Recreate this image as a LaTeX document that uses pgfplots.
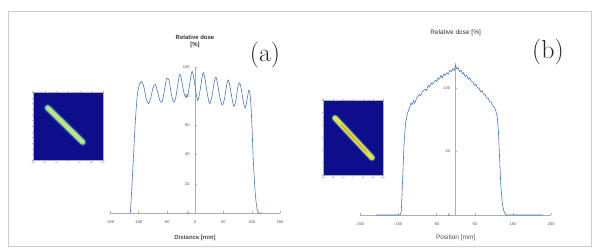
\documentclass[border=0pt]{standalone}
\usepackage{pgfplots}
\pgfplotsset{compat=1.18}
\usepackage{fontspec}
\setsansfont{Liberation Sans}
\definecolor{curve}{RGB}{70,120,195}
\definecolor{axgray}{RGB}{175,175,175}
\definecolor{tickgray}{RGB}{80,80,80}
\definecolor{hmblue}{RGB}{14,14,140}
\definecolor{hmmid}{RGB}{40,110,210}
\definecolor{hmcyan}{RGB}{120,200,160}
\definecolor{hmyel}{RGB}{205,225,120}
\definecolor{hmyel2}{RGB}{235,225,60}
\definecolor{hmor}{RGB}{225,165,40}
\definecolor{framegray}{RGB}{205,205,205}
\pgfplotsset{
  profile/.style={
    scale only axis, anchor=south west,
    axis lines*=middle,
    hide obscured x ticks=false, hide obscured y ticks=false,
    axis line style={axgray, line width=0.4bp},
    tick style={axgray, line width=0.3bp},
    major tick length=1.5bp,
    /pgf/number format/assume math mode=true,
    tick label style={font=\sffamily\fontsize{4}{4}\selectfont, text=tickgray},
    xticklabel style={yshift=-4bp},
    yticklabel style={xshift=-2bp},
    label style={font=\sffamily\bfseries\fontsize{6}{6}\selectfont, text=tickgray},
    title style={font=\sffamily\bfseries\fontsize{6}{6.5}\selectfont, text=black!80, align=center, anchor=center},
    clip=false,
  },
  inset/.style={
    scale only axis, anchor=south west,
    xmin=-150, xmax=150, ymin=-150, ymax=150,
    axis background/.style={fill=hmblue},
    axis line style={axgray, line width=0.3bp},
    tick style={axgray, line width=0.3bp},
    tick align=outside, major tick length=1.2bp,
    /pgf/number format/assume math mode=true,
    tick label style={font=\sffamily\fontsize{2}{2}\selectfont, text=tickgray, inner sep=0.5bp},
    yticklabels={},
  },
}
\begin{document}
\begin{tikzpicture}
\path[use as bounding box] (0,0) rectangle (595bp,252bp);
\draw[framegray, line width=0.8bp] (8bp,6bp) rectangle (591bp,241bp);

% ---------- panel (a) profile ----------
\begin{axis}[profile,
  at={(110bp,39bp)}, width=170bp, height=146bp,
  xmin=-150, xmax=150, ymin=0, ymax=100,
  xtick={-150,-100,-50,0,50,100,150},
  ytick={0,20,40,60,80,100},
  xlabel={Distance [mm]},
  xlabel style={at={(axis description cs:0.5,-0.171)}, anchor=center},
  title={Relative dose\\{[\%]}},
  title style={at={(axis description cs:0.5,1.134)}},
]
\addplot[curve, line width=0.6bp, smooth, tension=0.5] coordinates {
(-114,0) (-110,28) (-106,58) (-102,80) (-98,88) (-94,90) (-90,86) (-86,78)
(-82,75) (-78,79) (-74,86) (-70,88) (-66,83) (-62,77) (-58,76) (-54,84)
(-50,92) (-46,91) (-42,82) (-38,76) (-34,79) (-30,89) (-27,95) (-24,92)
(-20,83) (-16,79) (-12,82) (-8,92) (-5,97) (-2,92) (2,82) (5,77) (9,84)
(13,94) (15,96) (18,91) (22,81) (26,75) (30,80) (34,90) (37,93) (40,88)
(44,79) (48,74) (52,78) (56,88) (59,91) (62,86) (66,77) (69,73) (72,77)
(76,87) (79,89) (82,84) (86,75) (89,72) (92,78) (95,84) (97,82) (99,72)
(101,55) (103,35) (106,15) (109,4) (112,0) (119,0)
};
\end{axis}

% ---------- panel (a) inset ----------
\begin{axis}[inset,
  at={(33bp,92bp)}, width=70bp, height=68bp,
  xtick={-150,-100,-50,0,50,100,150},
  ytick={-150,-125,...,150},
]
\addplot[hmmid, line width=8bp, line cap=round, opacity=0.5] coordinates {(-87,80) (63,-71)};
\addplot[hmcyan, line width=5.5bp, line cap=round] coordinates {(-87,80) (63,-71)};
\addplot[hmyel, line width=3.5bp, line cap=round] coordinates {(-87,80) (63,-71)};
\end{axis}

% ---------- panel (b) profile ----------
\begin{axis}[profile,
  at={(360bp,37bp)}, width=191.25bp, height=152.4bp,
  xmin=-250, xmax=250, ymin=0, ymax=120,
  xtick={-250,-150,-50,50,150,250},
  ytick={0,50,100},
  xlabel={Position [mm]},
  xlabel style={at={(axis description cs:0.5,-0.148)}, anchor=center, font=\sffamily\fontsize{6.5}{6.5}\selectfont},
  title={Relative dose [\%]},
  title style={at={(axis description cs:0.5,1.155)}, font=\sffamily\fontsize{6.5}{6.5}\selectfont},
]
\addplot[curve, line width=0.6bp] coordinates {
(-208,0) (-150,0) (-145,0) (-142,3) (-139,25) (-135,55) (-131,72) (-126,80)
(-121,84) (-117,88) (-114,87) (-110,90) (-107,88) (-102,92) (-99,93) (-95,95)
(-91,94) (-87,97) (-84,98) (-80,99) (-76,98) (-72,102) (-68,101) (-64,104)
(-60,103) (-56,105) (-53,106) (-49,105) (-46,108) (-42,107) (-38,110) (-35,108)
(-31,111) (-27,110) (-23,112) (-19,111) (-15,114) (-11,113) (-7,115)
(-4,114) (0,118) (3,115) (7,116) (10,113) (14,114) (18,111) (21,112)
(25,109) (29,110) (33,107) (37,108) (41,105) (45,105) (49,102) (53,103)
(57,100) (61,100) (65,97) (69,98) (73,95) (77,95) (81,92) (85,92) (89,89)
(93,89) (97,86) (101,85) (105,82) (109,77) (112,65) (115,45) (118,24)
(122,9) (126,3) (132,0) (229,0)
};
\end{axis}

% ---------- panel (b) inset ----------
\begin{axis}[inset,
  at={(323bp,77bp)}, width=60bp, height=75bp,
  xtick={-150,-100,-50,0,50,100,150},
  ytick={-150,-100,...,150},
]
\addplot[hmmid, line width=7.5bp, line cap=round, opacity=0.5] coordinates {(-90,78) (95,-81)};
\addplot[hmcyan, line width=5.5bp, line cap=round] coordinates {(-90,78) (95,-81)};
\addplot[hmyel2, line width=4bp, line cap=round] coordinates {(-90,78) (95,-81)};
\addplot[hmor, line width=1.5bp] coordinates {(-60,52) (70,-60)};
\end{axis}

\node[font=\rmfamily\fontsize{26}{26}\selectfont, text=black!85] at (265bp,197bp) {(a)};
\node[font=\rmfamily\fontsize{26}{26}\selectfont, text=black!85] at (548bp,200bp) {(b)};
\end{tikzpicture}
\end{document}
